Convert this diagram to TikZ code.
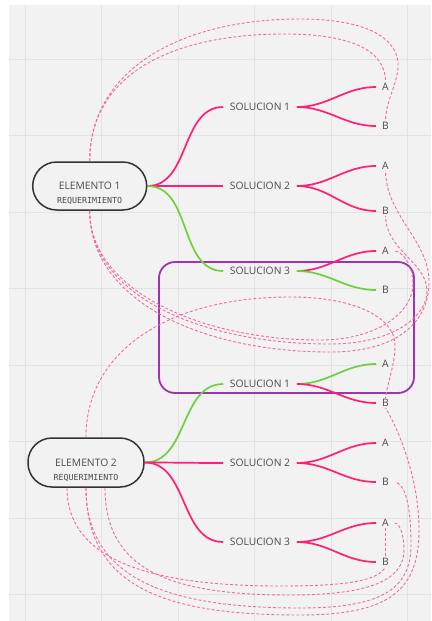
\documentclass[tikz,border=0pt]{standalone}
\usepackage{fontspec}
\setmainfont{Open Sans}
\newfontfamily\reqfont{DejaVu Sans Mono}
\usetikzlibrary{calc}
\definecolor{fondo}{HTML}{F2F2F2}
\definecolor{rejilla}{HTML}{E3E3E3}
\definecolor{rosa}{HTML}{FF1F78}
\definecolor{verde}{HTML}{6CD13C}
\definecolor{rosaclaro}{HTML}{EE6AA5}
\definecolor{morado}{HTML}{A032B4}
\definecolor{texto}{HTML}{4A4A4A}

\begin{document}
\begin{tikzpicture}[x=1pt, y=-1pt,
    elemento/.style={draw=black!80, line width=1.5pt, fill=fondo, rounded corners=24pt, minimum width=114pt, minimum height=48pt},
    rotulo/.style={align=center, text=texto, font=\fontsize{10.3}{14}\selectfont},
    solucion/.style={text=texto, font=\fontsize{10.3}{12}\selectfont, inner xsep=6.5pt, inner ysep=1pt},
    hoja/.style={text=texto, font=\fontsize{10.3}{12}\selectfont, inner xsep=6pt, inner ysep=1pt},
    rama/.style={line width=1.7pt, rosa},
    ramav/.style={line width=1.7pt, verde},
    enlace/.style={line width=0.9pt, rosaclaro, dash pattern=on 3pt off 2pt}]
    \useasboundingbox (0,0) rectangle (431,621);
    \fill[white] (0,0) rectangle (431,621);
    \fill[fondo] (9,5) rectangle (431,621);
    \foreach \x in {25,101.5,178,254.5,331,407.5}
        \draw[rejilla, line width=0.8pt] (\x,5) -- (\x,621);
    \foreach \y in {59,135.5,212,288.5,365,441.5,518,594.5}
        \draw[rejilla, line width=0.8pt] (9,\y) -- (431,\y);
    \draw[morado, line width=1.8pt, rounded corners=16pt] (159,262) rectangle (414,393);

    \node[elemento] (el1) at (89.7,186) {};
    \node[rotulo] (el1t) at (89.7,193) {ELEMENTO 1\\{\reqfont\fontsize{8.3}{14}\selectfont REQUERIMIENTO}};
    \node[elemento, minimum width=116pt, minimum height=49pt] (el2) at (86,462.5) {};
    \node[rotulo] (el2t) at (86,470) {ELEMENTO 2\\{\reqfont\fontsize{8.3}{13}\selectfont REQUERIMIENTO}};

    \node[solucion] (sol11) at (260,107) {SOLUCION 1};
    \node[solucion] (sol12) at (260,186) {SOLUCION 2};
    \node[solucion] (sol13) at (260,271) {SOLUCION 3};
    \node[solucion] (sol21) at (260,384) {SOLUCION 1};
    \node[solucion] (sol22) at (260,463) {SOLUCION 2};
    \node[solucion] (sol23) at (260,542) {SOLUCION 3};

    \node[hoja] (sol11a) at (385.5,87) {A};
    \node[hoja] (sol11b) at (385.5,126) {B};
    \node[hoja] (sol12a) at (385.5,166) {A};
    \node[hoja] (sol12b) at (385.5,211) {B};
    \node[hoja] (sol13a) at (385.5,251) {A};
    \node[hoja] (sol13b) at (385.5,290) {B};
    \node[hoja] (sol21a) at (385.5,364) {A};
    \node[hoja] (sol21b) at (385.5,403) {B};
    \node[hoja] (sol22a) at (385.5,443) {A};
    \node[hoja] (sol22b) at (385.5,482) {B};
    \node[hoja] (sol23a) at (385.5,523) {A};
    \node[hoja] (sol23b) at (385.5,562) {B};

    \draw[enlace] (el1.north) .. controls (89.7,70) and (180,19) .. (300,19) .. controls (370,19) and (400,40) .. (398,68) .. controls (396,88) and (386,100) .. (sol11b.north);
    \draw[enlace] (el1.north) .. controls (89.7,75) and (170,34) .. (285,34) .. controls (350,34) and (386,50) .. (sol11a.north);
    \draw[enlace] (el1.south) .. controls (89.7,300) and (200,352) .. (330,352) .. controls (400,352) and (430,320) .. (429,280) .. controls (428,240) and (386,215) .. (sol12a.south);
    \draw[enlace] (el1.south) .. controls (89.7,295) and (200,344) .. (330,344) .. controls (395,344) and (428,315) .. (427,290) .. controls (426,262) and (386,250) .. (sol12b.south);
    \draw[enlace] (el1.south) .. controls (89.7,290) and (200,340) .. (320,340) .. controls (380,340) and (414,310) .. (413,283) .. controls (412,262) and (402,252) .. (sol13a.east);
    \draw[enlace] (el2.north) .. controls (86,350) and (170,297) .. (290,297) .. controls (360,297) and (395,320) .. (395,345) .. controls (395,365) and (388,380) .. (sol21b.north);
    \draw[enlace] ([xshift=-19pt]el2.south) .. controls (67,560) and (150,586) .. (280,586) .. controls (340,586) and (378,582) .. (sol23b.south);
    \draw[enlace] ([xshift=19pt]el2.south) .. controls (105,570) and (170,595) .. (290,595) .. controls (370,595) and (404,580) .. (404,550) .. controls (404,535) and (400,524) .. (sol23a.east);
    \draw[enlace] (el2.south) .. controls (86,580) and (170,608) .. (300,608) .. controls (380,608) and (411,590) .. (411,545) .. controls (411,505) and (405,484) .. (sol22b.east);
    \draw[enlace] (el2.south) .. controls (86,590) and (170,615) .. (300,615) .. controls (390,615) and (419,590) .. (419,530) .. controls (419,470) and (392,418) .. (sol21b.south);
    \draw[enlace] (sol23a.south) -- (sol23b.north);

    \draw[rama] (el1.east) to[out=0, in=180] (sol11.west);
    \draw[rama] (el1.east) to[out=0, in=180] (sol12.west);
    \draw[ramav] (el1.east) to[out=0, in=180] (sol13.west);
    \draw[rama] (sol11.east) to[out=0, in=180] (sol11a.west);
    \draw[rama] (sol11.east) to[out=0, in=180] (sol11b.west);
    \draw[rama] (sol12.east) to[out=0, in=180] (sol12a.west);
    \draw[rama] (sol12.east) to[out=0, in=180] (sol12b.west);
    \draw[rama] (sol13.east) to[out=0, in=180] (sol13a.west);
    \draw[ramav] (sol13.east) to[out=0, in=180] (sol13b.west);

    \draw[ramav] (el2.east) to[out=0, in=180] (sol21.west);
    \draw[rama] (el2.east) to[out=0, in=180] (sol22.west);
    \draw[rama] (el2.east) to[out=0, in=180] (sol23.west);
    \draw[ramav] (sol21.east) to[out=0, in=180] (sol21a.west);
    \draw[rama] (sol21.east) to[out=0, in=180] (sol21b.west);
    \draw[rama] (sol22.east) to[out=0, in=180] (sol22a.west);
    \draw[rama] (sol22.east) to[out=0, in=180] (sol22b.west);
    \draw[rama] (sol23.east) to[out=0, in=180] (sol23a.west);
    \draw[rama] (sol23.east) to[out=0, in=180] (sol23b.west);
\end{tikzpicture}
\end{document}
